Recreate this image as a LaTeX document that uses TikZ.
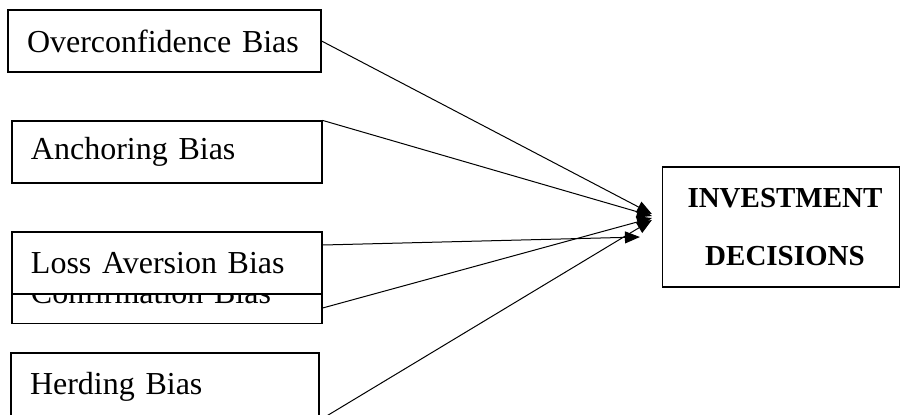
\documentclass[tikz,border=0pt]{standalone}
\usepackage{fontspec}
\setmainfont{Liberation Serif}
\usetikzlibrary{arrows.meta,calc}

\begin{document}
\begin{tikzpicture}[x=0.5pt, y=-0.5pt,
  biasbox/.style={draw, fill=white, line width=0.6pt, minimum height=31pt,
    text width=136pt, inner xsep=9.5pt, align=left,
    font=\fontsize{16}{19}\selectfont},
  link/.style={line width=0.5pt, -{Triangle[length=7.5pt,width=6pt]}}]
\useasboundingbox (0,0) rectangle (900,414);
\clip (0,0) rectangle (900,414);

\node[biasbox, minimum width=156.5pt, text width=137.5pt] (over) at (164.5,41) {Overconfidence Bias};
\node[biasbox] (anch) at (167,152) {Anchoring Bias};
\node[biasbox, minimum height=31.5pt] (conf) at (167,292) {Confirmation Bias};
\node[biasbox] (loss) at (167,263) {Loss Aversion Bias};
\node[biasbox, text width=135pt, minimum height=34pt] (herd) at (165,387) {Herding Bias};

\node[draw, line width=0.6pt, minimum width=118.5pt, minimum height=60pt, align=center,
  font=\bfseries\fontsize{14.5}{29}\selectfont] (inv) at (781,227) {\hspace*{4pt}INVESTMENT\\\hspace*{4pt}DECISIONS};

% connectors
\draw[link] (over.east) -- ($(inv.west)+(-10,-13)$);
\draw[link] (anch.north east) -- ($(inv.west)+(-10,-11)$);
\draw[link] ($(loss.east)+(0,-18)$) -- ($(inv.west)+(-22,10)$);
\draw[link] ($(conf.east)+(0,16)$) -- ($(inv.west)+(-10,-9)$);
\draw[link] ($(herd.south east)+(6,-5)$) -- ($(inv.west)+(-10,-7)$);
\end{tikzpicture}
\end{document}
